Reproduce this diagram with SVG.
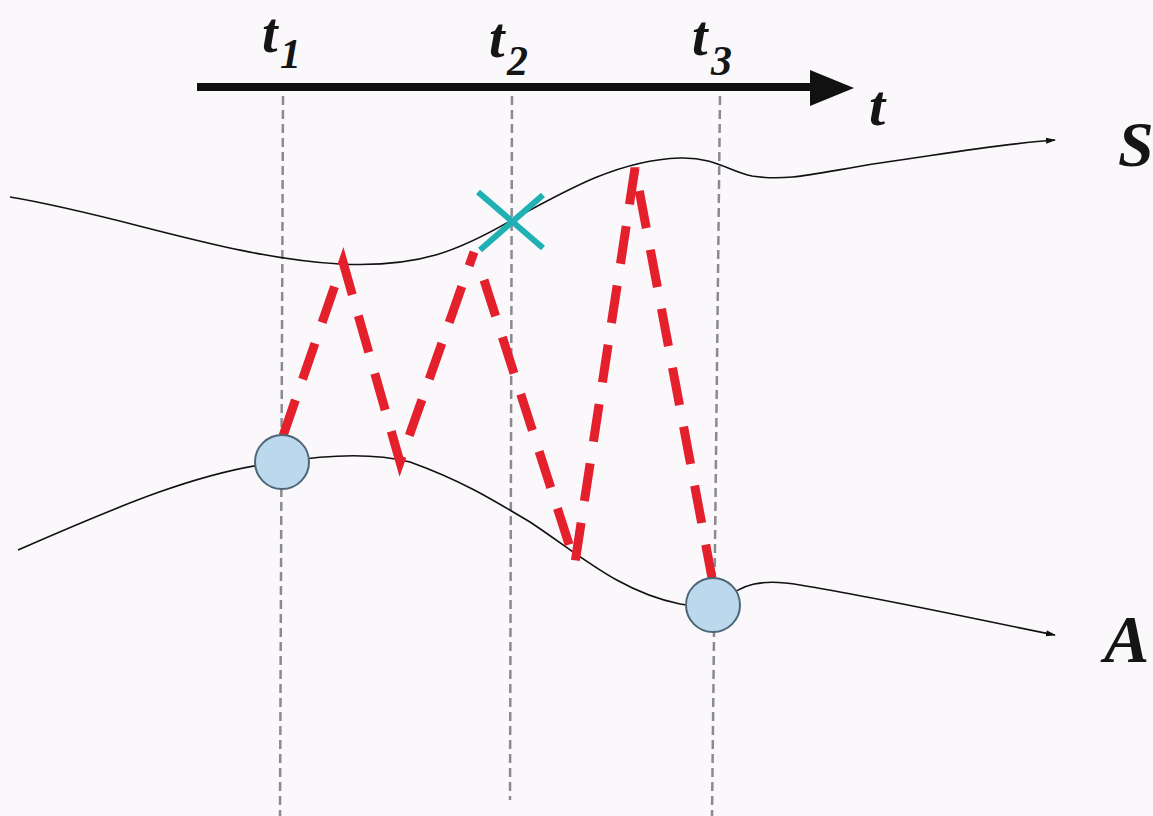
<svg xmlns="http://www.w3.org/2000/svg" width="1153" height="816" viewBox="0 0 1153 816">
<defs>
<style>
.lbl{font-family:"Liberation Serif","DejaVu Serif",serif;font-style:italic;font-weight:bold;fill:#151515}
.vd{stroke:#8a8a90;stroke-width:2.5;stroke-dasharray:9 5;fill:none}
.crv{stroke:#111;stroke-width:1.6;fill:none}
.sig{stroke:#e4202c;stroke-width:9;stroke-dasharray:38 22;fill:none;stroke-linejoin:miter}
.node{fill:#bcd8ec;stroke:#4d6678;stroke-width:2}
</style>
<marker id="ah" viewBox="0 0 10 10" refX="9" refY="5" markerWidth="10" markerHeight="10" markerUnits="userSpaceOnUse" orient="auto"><path d="M0,2 L10,5 L0,8 Z" fill="#111"/></marker>
</defs>
<rect width="1153" height="816" fill="#fbf8fb"/>
<g id="axis">
<line x1="197" y1="87" x2="815" y2="87" stroke="#111" stroke-width="8"/>
<path d="M810,70 L854,88 L810,106 Z" fill="#111"/>
<text class="lbl" x="869" y="125" font-size="58">t</text>
</g>
<g id="labels">
<text class="lbl" x="262" y="52" font-size="56">t</text><text class="lbl" x="280" y="68" font-size="42">1</text>
<text class="lbl" x="489" y="57" font-size="56">t</text><text class="lbl" x="507" y="75" font-size="42">2</text>
<text class="lbl" x="692" y="55" font-size="56">t</text><text class="lbl" x="711" y="75" font-size="42">3</text>
<text class="lbl" x="1118" y="166" font-size="64">S</text>
<text class="lbl" x="1104" y="662" font-size="68">A</text>
</g>
<g id="timelines">
<line class="vd" x1="283" y1="96" x2="280" y2="816"/>
<line class="vd" x1="512" y1="96" x2="510" y2="800"/>
<line class="vd" x1="720" y1="96" x2="712" y2="816"/>
</g>
<g id="curve-S">
<path class="crv" d="M10,197 C120,215 230,258 340,264 C420,268 460,250 512,220 C570,188 620,160 680,158 C715,157 730,172 752,176 C790,182 820,172 880,163 C950,153 1000,144 1055,140" marker-end="url(#ah)"/>
</g>
<g id="curve-A">
<path class="crv" d="M18,550 C110,510 200,470 283,462 C320,456 370,452 410,462 C460,480 490,498 530,522 C580,555 620,592 680,604 C700,608 714,606 725,600 C740,585 760,578 800,585 C880,598 960,616 1055,635" marker-end="url(#ah)"/>
</g>
<g id="connectors">
<polyline class="sig" points="283,436 343,262 400,462 474,252"/>
<polyline class="sig" points="484,280 575,563 635,168 712,578"/>
</g>
<g id="loss">
<line x1="478" y1="192" x2="543" y2="248" stroke="#1fb0b4" stroke-width="6"/>
<line x1="543" y1="195" x2="480" y2="250" stroke="#1fb0b4" stroke-width="6"/>
</g>
<g id="node-A1"><circle class="node" cx="282" cy="462" r="27"/></g>
<g id="node-A2"><circle class="node" cx="713" cy="605" r="27"/></g>
</svg>
